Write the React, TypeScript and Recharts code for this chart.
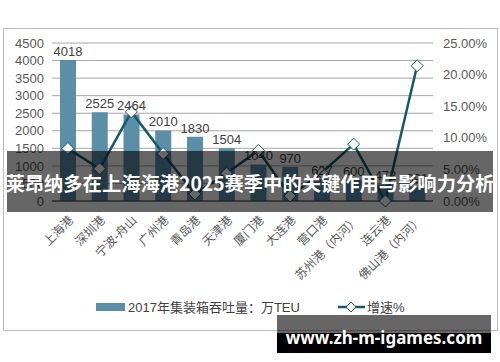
import React from "react"
import { ComposedChart, Bar, Line, XAxis, YAxis, CartesianGrid, LabelList } from "recharts"

// 2017 港口集装箱吞吐量 + 增速，双轴柱线图

const ports = ["上海港", "深圳港", "宁波-舟山", "广州港", "青岛港", "天津港", "厦门港", "大连港", "营口港", "苏州港（内河）", "连云港", "佛山港（内河）"]
const throughput = [4018, 2525, 2464, 2010, 1830, 1504, 1040, 970, 627, 600, 472, 391]
const growth = [8.3, 5.1, 14.1, 7.5, 1.1, 4.4, 8.0, 0.8, 4.5, 9.0, 0, 21.4]
const leftTicks = [0, 500, 1000, 1500, 2000, 2500, 3000, 3500, 4000, 4500]
const rightTicks = [0, 5, 10, 15, 20, 25]

const data = ports.map((port, i) => ({ port, throughput: throughput[i], growth: growth[i] }))

const BAR = "#5B8FA7"
const LINE = "#17576C"
const TEXT = "#595959"
const FONT = "'Liberation Sans', Arial, 'Noto Sans CJK SC', sans-serif"

const Diamond = (props: any) => {
  const { cx, cy } = props
  if (cx == null || cy == null) return null
  const r = 6
  return (
    <polygon
      points={`${cx},${cy - r} ${cx + r},${cy} ${cx},${cy + r} ${cx - r},${cy}`}
      fill="#fff"
      stroke={LINE}
      strokeWidth={1}
    />
  )
}

const PortTick = (props: any) => {
  const { x, y, payload } = props
  const ax = x + 6
  const ay = y + 12
  return (
    <text x={ax} y={ay} transform={`rotate(-45 ${ax} ${ay})`} textAnchor="end" fontSize={12} fill={TEXT} fontFamily={FONT}>
      {payload.value}
    </text>
  )
}

export default function App() {
  return (
    <div style={{ position: "absolute", left: 0, top: 0, width: 500, height: 362, background: "#fff", fontFamily: FONT }}>
      <svg width={500} height={362} style={{ position: "absolute", left: 0, top: 0 }}>
        <rect x={3.5} y={28.5} width={494} height={302} fill="#fff" stroke="#bcbcbc" />
      </svg>
      <div style={{ position: "absolute", left: 0, top: 0 }}>
        <ComposedChart width={500} height={362} data={data} margin={{ top: 43, right: 0, left: 0, bottom: 0 }}>
          <CartesianGrid yAxisId="left" vertical={false} stroke="#a6a6a6" />
          <XAxis dataKey="port" height={161} interval={0} tickLine={false} axisLine={{ stroke: "#404040" }} tick={<PortTick />} />
          <YAxis
            yAxisId="left"
            width={52}
            domain={[0, 4500]}
            ticks={leftTicks}
            interval={0}
            axisLine={false}
            tickLine={false}
            tickMargin={2}
            tick={{ fontSize: 13, fill: TEXT, fontFamily: FONT }}
          />
          <YAxis
            yAxisId="right"
            orientation="right"
            width={67}
            domain={[0, 25]}
            ticks={rightTicks}
            interval={0}
            axisLine={false}
            tickLine={false}
            tickMargin={4}
            tickFormatter={(v: number) => `${v.toFixed(2)}%`}
            tick={{ fontSize: 13, fill: TEXT, fontFamily: FONT }}
          />
          <Bar yAxisId="left" dataKey="throughput" fill={BAR} barSize={16} isAnimationActive={false}>
            <LabelList dataKey="throughput" position="top" offset={4} fontSize={13} fill="#404040" fontFamily={FONT} />
          </Bar>
          <Line
            yAxisId="right"
            type="linear"
            dataKey="growth"
            stroke={LINE}
            strokeWidth={2.5}
            dot={<Diamond />}
            activeDot={false}
            isAnimationActive={false}
          />
        </ComposedChart>
      </div>
      <svg width={500} height={362} style={{ position: "absolute", left: 0, top: 0, pointerEvents: "none" }}>
        {/* legend */}
        <rect x={96} y={303} width={29} height={8} fill={BAR} />
        <text x={128} y={312} fontSize={13} fill="#404040" fontFamily={FONT}>2017年集装箱吞吐量：万TEU</text>
        <line x1={338} y1={307} x2={365} y2={307} stroke={LINE} strokeWidth={2.5} />
        <polygon points="351,302 356,307 351,312 346,307" fill="#fff" stroke={LINE} strokeWidth={1} />
        <text x={367} y={312} fontSize={13} fill="#404040" fontFamily={FONT}>增速%</text>
        {/* title banner */}
        <rect x={7} y={151} width={486} height={61} fill="rgba(0,0,0,0.6)" />
        <text x={250} y={191} textAnchor="middle" fontSize={19.3} fontWeight={700} fill="#fff" fontFamily="'Noto Sans CJK SC', sans-serif">
          莱昂纳多在上海海港2025赛季中的关键作用与影响力分析
        </text>
        {/* watermark */}
        <rect x={277} y={315} width={214} height={18} fill="rgba(0,0,0,0.6)" />
        <rect x={277} y={333} width={214} height={20} fill="#000" />
        <text x={384} y={344} textAnchor="middle" fontSize={17} fontWeight={700} fill="#fff" fontFamily="'Noto Sans', sans-serif">
          www.zh-m-igames.com
        </text>
      </svg>
    </div>
  )
}
